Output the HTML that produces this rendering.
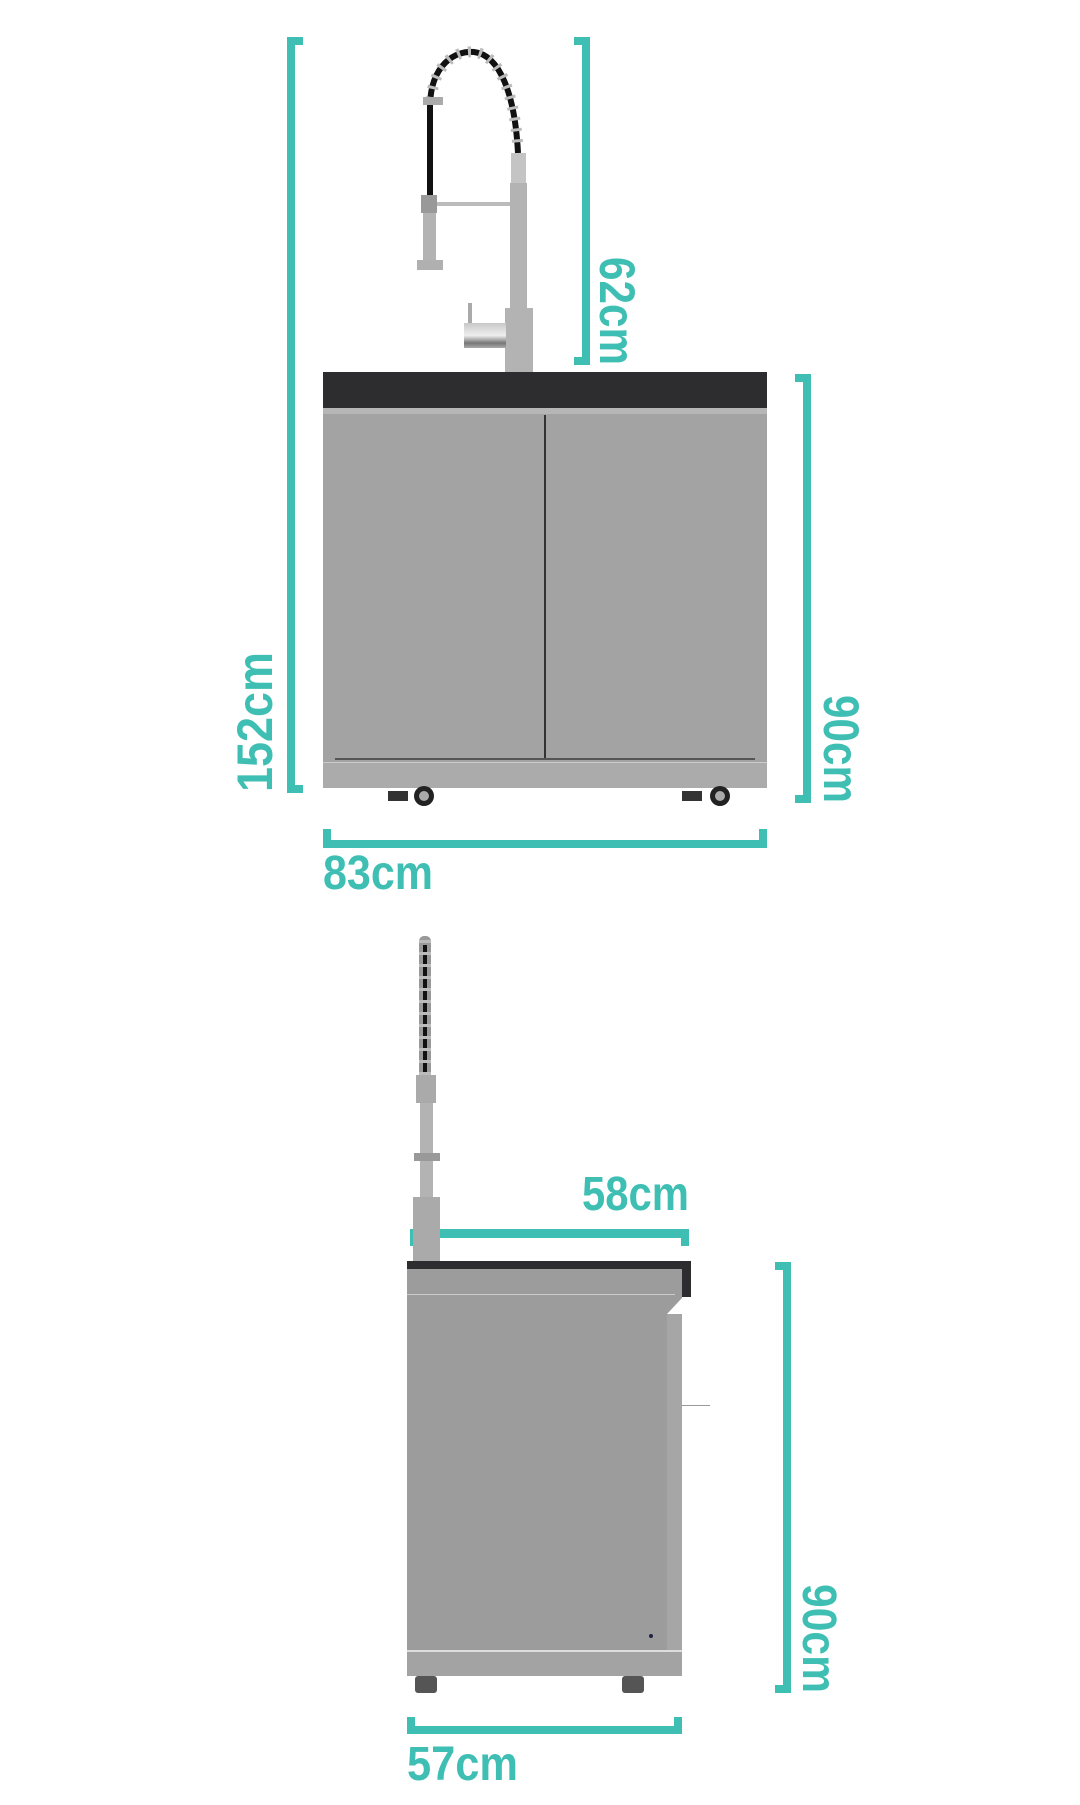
<!DOCTYPE html>
<html><head><meta charset="utf-8"><style>
html,body{margin:0;padding:0;background:#fff;}
body{width:1080px;height:1800px;overflow:hidden;}
svg text{font-family:"Liberation Sans",sans-serif;font-weight:bold;fill:#3fbfb3;}
</style></head><body>
<svg width="1080" height="1800" viewBox="0 0 1080 1800" xmlns="http://www.w3.org/2000/svg">
<defs>
<linearGradient id="handle" x1="0" y1="0" x2="0" y2="1"><stop offset="0" stop-color="#c8c8c8"/><stop offset="0.5" stop-color="#eee"/><stop offset="0.8" stop-color="#777"/><stop offset="1" stop-color="#aaa"/></linearGradient>
</defs>
<g fill="#3fbfb3">
<rect x="287" y="37" width="8" height="756"/><rect x="287" y="37" width="16" height="8"/><rect x="287" y="785" width="16" height="8"/>
<rect x="582" y="37" width="8" height="328"/><rect x="574" y="37" width="16" height="8"/><rect x="574" y="357" width="16" height="8"/>
<rect x="803" y="374" width="8" height="429"/><rect x="795" y="374" width="16" height="8"/><rect x="795" y="795" width="16" height="8"/>
<rect x="323" y="840" width="444" height="8"/><rect x="323" y="829" width="8" height="19"/><rect x="759" y="829" width="8" height="19"/>
<rect x="410" y="1229" width="279" height="9"/><rect x="681" y="1229" width="8" height="17"/><rect x="410" y="1229" width="7" height="17"/>
<rect x="783" y="1262" width="8" height="431"/><rect x="775" y="1262" width="16" height="8"/><rect x="775" y="1685" width="16" height="8"/>
<rect x="407" y="1726" width="275" height="8"/><rect x="407" y="1717" width="8" height="17"/><rect x="674" y="1717" width="8" height="17"/>
</g>
<text x="0" y="0" font-size="50" transform="translate(272,792) rotate(-90)" textLength="140" lengthAdjust="spacingAndGlyphs">152cm</text>
<text x="0" y="0" font-size="50" transform="translate(600,257) rotate(90)" textLength="108" lengthAdjust="spacingAndGlyphs">62cm</text>
<text x="0" y="0" font-size="50" transform="translate(824,695) rotate(90)" textLength="108" lengthAdjust="spacingAndGlyphs">90cm</text>
<text x="323" y="889" font-size="48" textLength="110" lengthAdjust="spacingAndGlyphs">83cm</text>
<text x="582" y="1210" font-size="48" textLength="107" lengthAdjust="spacingAndGlyphs">58cm</text>
<text x="0" y="0" font-size="48" transform="translate(803,1584) rotate(90)" textLength="109" lengthAdjust="spacingAndGlyphs">90cm</text>
<text x="407" y="1780" font-size="48" textLength="111" lengthAdjust="spacingAndGlyphs">57cm</text>

<path d="M430,197 L430,105 C431,65 455,50 474,52 C500,55 515,95 518,153" fill="none" stroke="#111" stroke-width="6"/>
<path d="M431,100 C434,65 455,50 474,52 C500,55 515,95 518,150" fill="none" stroke="#bbb" stroke-width="11" stroke-dasharray="3 8"/>
<rect x="423" y="97" width="20" height="8" fill="#aaa"/>
<rect x="511" y="153" width="15" height="30" fill="#c4c4c4"/>
<rect x="510" y="183" width="17" height="126" fill="#b3b3b3"/>
<rect x="505" y="308" width="28" height="64" fill="#b3b3b3"/>
<rect x="437" y="202" width="73" height="4" fill="#bbb"/>
<rect x="421" y="195" width="16" height="18" fill="#999"/>
<rect x="423" y="213" width="13" height="47" fill="#b3b3b3"/>
<rect x="417" y="260" width="26" height="10" fill="#b0b0b0"/>
<rect x="468" y="303" width="4" height="20" fill="#aaa"/>
<rect x="464" y="323" width="42" height="25" fill="url(#handle)"/>
<rect x="323" y="372" width="444" height="36" fill="#2d2d2f"/>
<rect x="323" y="408" width="444" height="380" fill="#a3a3a3"/>
<rect x="323" y="408" width="444" height="6" fill="#b6b6b6"/>
<rect x="544" y="415" width="2" height="345" fill="#333"/>
<rect x="335" y="758" width="420" height="2" fill="#555"/>
<rect x="323" y="762" width="444" height="26" fill="#ababab"/>
<rect x="323" y="762" width="444" height="1" fill="#ccc"/>
<g fill="#333"><rect x="388" y="791" width="20" height="10"/><rect x="682" y="791" width="20" height="10"/></g>
<circle cx="424" cy="796" r="10" fill="#222"/><circle cx="424" cy="796" r="5" fill="#aaa"/>
<circle cx="720" cy="796" r="10" fill="#222"/><circle cx="720" cy="796" r="5" fill="#aaa"/>

<rect x="419" y="936" width="12" height="140" rx="5" fill="#999"/>
<rect x="423" y="945" width="4" height="135" fill="#111"/>
<line x1="425" y1="940" x2="425" y2="1075" stroke="#bbb" stroke-width="12" stroke-dasharray="3 9"/>
<rect x="416" y="1075" width="20" height="28" fill="#aaa"/>
<rect x="420" y="1103" width="13" height="50" fill="#b3b3b3"/>
<rect x="414" y="1153" width="26" height="8" fill="#999"/>
<rect x="420" y="1161" width="13" height="38" fill="#b3b3b3"/>
<rect x="413" y="1197" width="27" height="64" fill="#aaa"/>
<rect x="407" y="1261" width="284" height="11" fill="#2d2d2f"/>
<rect x="682" y="1261" width="9" height="36" fill="#2d2d2f"/>
<path d="M407,1269 H682 V1298 L667,1314 H682 V1650 H407 Z" fill="#9c9c9c"/>
<rect x="667" y="1314" width="15" height="336" fill="#a6a6a6"/>
<rect x="407" y="1294" width="268" height="1" fill="#ccc"/>
<rect x="407" y="1650" width="275" height="26" fill="#a3a3a3"/>
<rect x="407" y="1650" width="275" height="2" fill="#ddd"/>
<rect x="682" y="1405" width="28" height="1" fill="#999"/>
<circle cx="651" cy="1636" r="2" fill="#224"/>
<g fill="#555"><rect x="415" y="1676" width="22" height="17" rx="3"/><rect x="622" y="1676" width="22" height="17" rx="3"/></g>
</svg>
</body></html>
